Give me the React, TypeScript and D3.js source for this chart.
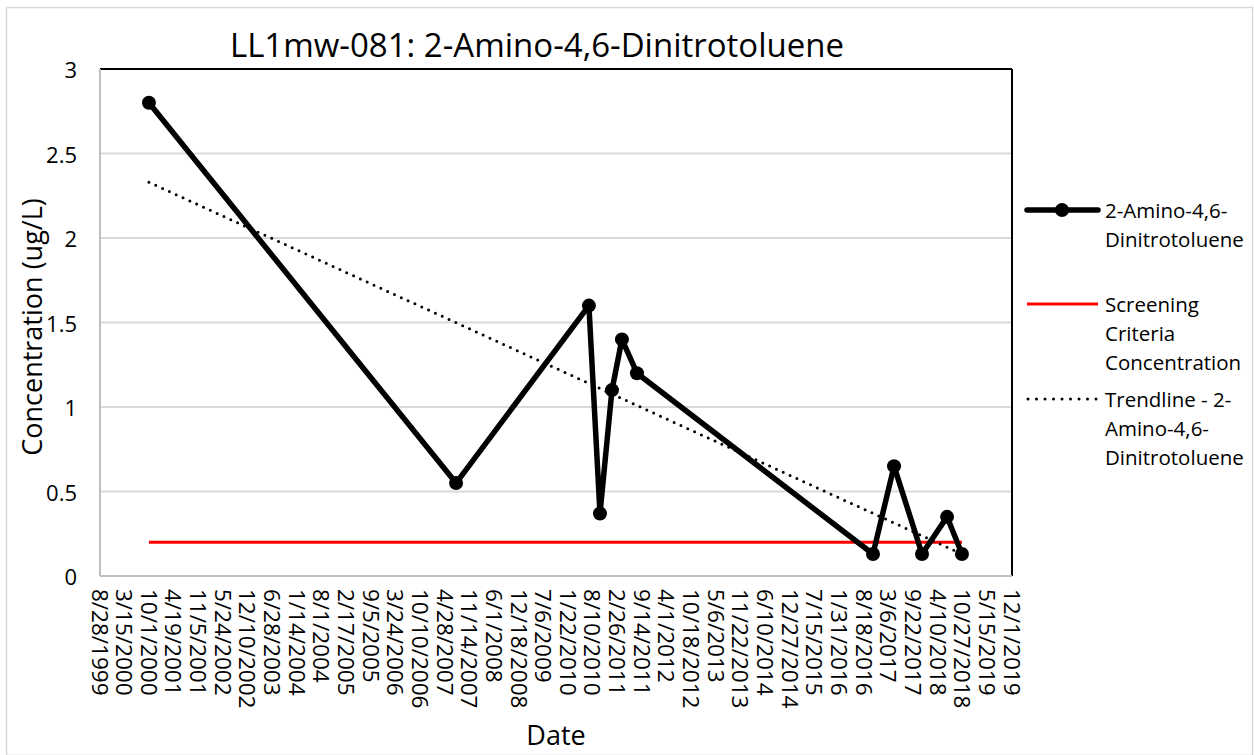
import React from 'react';
import * as d3 from 'd3';

// sample dates and concentrations (ug/L)
const sampleDates = [
  '2000-09-28', '2007-07-26', '2010-07-08', '2010-10-06', '2011-01-11',
  '2011-04-02', '2011-08-02', '2016-10-29', '2017-04-18', '2017-12-01',
  '2018-06-22', '2018-10-21',
];
const concentrations = [2.8, 0.55, 1.6, 0.37, 1.1, 1.4, 1.2, 0.13, 0.65, 0.13, 0.35, 0.13];

// screening criteria concentration
const screeningValue = 0.2;
// linear trendline values at the first and last sample
const trendValues = [2.33, 0.13];

const yTicks = [0, 0.5, 1, 1.5, 2, 2.5, 3];
const xStart = '1999-08-28';
const xEnd = '2019-12-01';
const xTickStepDays = 200;

const legendItems = [
  { key: 'data', lines: ['2-Amino-4,6-', 'Dinitrotoluene'] },
  { key: 'screen', lines: ['Screening', 'Criteria', 'Concentration'] },
  { key: 'trend', lines: ['Trendline - 2-', 'Amino-4,6-', 'Dinitrotoluene'] },
];

const W = 1254;
const H = 755;
const FONT = '"Open Sans", sans-serif';

const parse = d3.utcParse('%Y-%m-%d');
const fmt = d3.utcFormat('%-m/%-d/%Y');

export default function App() {
  const margin = { left: 100, right: 1012, top: 69, bottom: 576 };

  const x = d3.scaleUtc()
    .domain([parse(xStart)!, parse(xEnd)!])
    .range([margin.left, margin.right]);
  const y = d3.scaleLinear().domain([0, 3]).range([margin.bottom, margin.top]);

  const xTicks = d3.utcDay.every(1)!.range(parse(xStart)!, d3.utcDay.offset(parse(xEnd)!, 1))
    .filter((d, i) => i % xTickStepDays === 0);

  const data = sampleDates.map((d, i) => ({ date: parse(d)!, value: concentrations[i] }));
  const first = data[0].date;
  const last = data[data.length - 1].date;

  const line = d3.line<{ date: Date; value: number }>()
    .x((d) => x(d.date))
    .y((d) => y(d.value));

  const legendX = 1027;
  const legendTextX = 1105;
  const legendRows = [210, 304, 399];
  const lineGap = 29;

  return (
    <svg width={W} height={H} style={{ position: 'absolute', left: 0, top: 0, background: '#fff' }}>
      <rect x={6.5} y={7.5} width={1246} height={748} fill="#fff" stroke="#d9d9d9" strokeWidth={1.5} />

      {/* gridlines */}
      {yTicks.map((t) => (
        <line key={t} x1={margin.left} x2={margin.right} y1={y(t)} y2={y(t)} stroke="#d9d9d9" strokeWidth={2} />
      ))}

      {/* plot border */}
      <line x1={margin.left} x2={margin.right} y1={margin.top} y2={margin.top} stroke="#000" strokeWidth={2} />
      <line x1={margin.right} x2={margin.right} y1={margin.top} y2={margin.bottom} stroke="#000" strokeWidth={2} />
      <line x1={margin.left} x2={margin.left} y1={margin.top} y2={margin.bottom} stroke="#bfbfbf" strokeWidth={2} />
      <line x1={margin.left} x2={margin.right} y1={margin.bottom} y2={margin.bottom} stroke="#bfbfbf" strokeWidth={2} />

      {/* y tick labels */}
      {yTicks.map((t) => (
        <text key={t} x={77} y={y(t)} textAnchor="end" dominantBaseline="central" fontFamily={FONT} fontSize={22} fill="#000">
          {t}
        </text>
      ))}

      {/* x tick labels */}
      {xTicks.map((d) => (
        <text
          key={+d}
          transform={`translate(${x(d)},589) rotate(90)`}
          dominantBaseline="central"
          fontFamily={FONT}
          fontSize={22.5}
          fill="#000"
        >
          {fmt(d)}
        </text>
      ))}

      {/* screening criteria */}
      <line x1={x(first)} x2={x(last)} y1={y(screeningValue)} y2={y(screeningValue)} stroke="#ff0000" strokeWidth={3} />

      {/* trendline */}
      <line
        x1={x(first)} x2={x(last)} y1={y(trendValues[0])} y2={y(trendValues[1])}
        stroke="#000" strokeWidth={3} strokeDasharray="0 7.5" strokeLinecap="round"
      />

      {/* data series */}
      <path d={line(data)!} fill="none" stroke="#000" strokeWidth={5.5} strokeLinejoin="round" />
      {data.map((d, i) => (
        <circle key={i} cx={x(d.date)} cy={y(d.value)} r={7} fill="#000" />
      ))}

      {/* titles */}
      <text x={537} y={44} textAnchor="middle" dominantBaseline="central" fontFamily={FONT} fontSize={33} fill="#000">
        LL1mw-081: 2-Amino-4,6-Dinitrotoluene
      </text>
      <text transform="translate(31,327) rotate(-90)" textAnchor="middle" dominantBaseline="central" fontFamily={FONT} fontSize={27} fill="#000">
        Concentration (ug/L)
      </text>
      <text x={556} y={734} textAnchor="middle" dominantBaseline="central" fontFamily={FONT} fontSize={27} fill="#000">
        Date
      </text>

      {/* legend */}
      {legendItems.map((item, i) => {
        const ly = legendRows[i];
        return (
          <g key={item.key}>
            {item.key === 'data' && (
              <g>
                <line x1={legendX} x2={legendX + 71} y1={ly} y2={ly} stroke="#000" strokeWidth={5.5} strokeLinecap="round" />
                <circle cx={legendX + 35} cy={ly} r={7} fill="#000" />
              </g>
            )}
            {item.key === 'screen' && (
              <line x1={legendX} x2={legendX + 71} y1={ly} y2={ly} stroke="#ff0000" strokeWidth={3} />
            )}
            {item.key === 'trend' && (
              <line x1={legendX + 1} x2={legendX + 71} y1={ly} y2={ly} stroke="#000" strokeWidth={3} strokeDasharray="0 8.5" strokeLinecap="round" />
            )}
            {item.lines.map((l, j) => (
              <text key={j} x={legendTextX} y={ly + j * lineGap} dominantBaseline="central" fontFamily={FONT} fontSize={20.5} fill="#000">
                {l}
              </text>
            ))}
          </g>
        );
      })}
    </svg>
  );
}
